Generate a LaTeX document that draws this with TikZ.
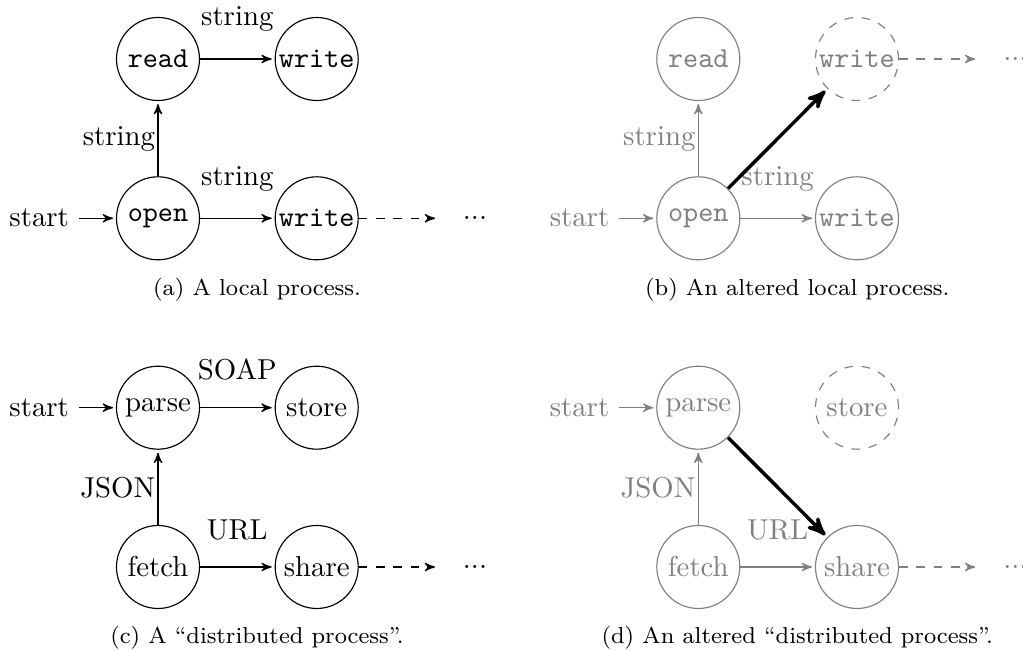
\documentclass[tikz,border=0pt]{standalone}
\usetikzlibrary{arrows}
\definecolor{faded}{gray}{0.5}
\tikzset{
  proc/.style={circle, draw, minimum size=28.82pt, inner sep=0pt},
  gone/.style={proc, dashed},
  lbl/.style={inner sep=0pt},
  newflow/.style={->, very thick, black},
  subcap/.style={font=\footnotesize, anchor=base, text=black},
}
\begin{document}
\begin{tikzpicture}[x=0.3472pt, y=-0.3472pt, >=stealth', shorten >=1pt, line width=0.4pt]
\useasboundingbox (0,0) rectangle (1023,651);

% (a) local process
\begin{scope}
  \node[proc] (a-read) at (158,59) {\texttt{read}};
  \node[proc] (a-wr1) at (316.7,59) {\texttt{write}};
  \node[proc] (a-open) at (158,218.3) {\texttt{open}};
  \node[proc] (a-wr2) at (316.7,218.3) {\texttt{write}};
  \node (a-start) at (39.2,218.3) {start};
  \node (a-dots) at (475,218.3) {...};
  \coordinate (a-end) at (437.9,218.3);
  \draw[->] (a-start) -- (a-open);
  \draw[->] (a-open) -- (a-read);
  \draw[->] (a-read) -- (a-wr1);
  \draw[->] (a-open) -- (a-wr2);
  \draw[->, dashed] (a-wr2) -- (a-end);
  \node[lbl, anchor=south] (a-l1) at (237.3,32.3) {string};
  \node[lbl, anchor=east] (a-l2) at (155.7,138.7) {string};
  \node[lbl, anchor=south] (a-l3) at (237.3,191.6) {string};
  \node[subcap] (a-cap) at (257,295.3) {(a) A local process.};
\end{scope}

% (b) altered local process
\begin{scope}[shift={(540.3,0)}, color=faded]
  \node[proc] (b-read) at (158,59) {\texttt{read}};
  \node[gone] (b-wr1) at (316.7,59) {\texttt{write}};
  \node[proc] (b-open) at (158,218.3) {\texttt{open}};
  \node[proc] (b-wr2) at (316.7,218.3) {\texttt{write}};
  \node (b-start) at (39.2,218.3) {start};
  \node (b-dots) at (475,59) {...};
  \coordinate (b-end) at (437.9,59);
  \draw[->] (b-start) -- (b-open);
  \draw[->] (b-open) -- (b-read);
  \draw[->] (b-open) -- (b-wr2);
  \draw[->, dashed] (b-wr1) -- (b-end);
  \node[lbl, anchor=east] (b-l2) at (155.7,138.7) {string};
  \node[lbl, anchor=south] (b-l3) at (237.3,191.6) {string};
  \draw[newflow] (b-open) -- (b-wr1);
  \node[subcap] (b-cap) at (257,295.3) {(b) An altered local process.};
\end{scope}

% (c) distributed process
\begin{scope}[shift={(0,348.7)}]
  \node[proc] (c-parse) at (158,59) {parse};
  \node[proc] (c-store) at (316.7,59) {store};
  \node[proc] (c-fetch) at (158,218.3) {fetch};
  \node[proc] (c-share) at (316.7,218.3) {share};
  \node (c-start) at (39.2,59) {start};
  \node (c-dots) at (475,218.3) {...};
  \coordinate (c-end) at (437.9,218.3);
  \draw[->] (c-start) -- (c-parse);
  \draw[->] (c-fetch) -- (c-parse);
  \draw[->] (c-parse) -- (c-store);
  \draw[->] (c-fetch) -- (c-share);
  \draw[->, dashed] (c-share) -- (c-end);
  \node[lbl, anchor=south] (c-l1) at (237.3,32.3) {SOAP};
  \node[lbl, anchor=east] (c-l2) at (155.7,138.7) {JSON};
  \node[lbl, anchor=south] (c-l3) at (237.3,191.6) {URL};
  \node[subcap] (c-cap) at (257,295.3) {(c) A “distributed process”.};
\end{scope}

% (d) altered distributed process
\begin{scope}[shift={(540.3,348.7)}, color=faded]
  \node[proc] (d-parse) at (158,59) {parse};
  \node[gone] (d-store) at (316.7,59) {store};
  \node[proc] (d-fetch) at (158,218.3) {fetch};
  \node[proc] (d-share) at (316.7,218.3) {share};
  \node (d-start) at (39.2,59) {start};
  \node (d-dots) at (475,218.3) {...};
  \coordinate (d-end) at (437.9,218.3);
  \draw[->] (d-start) -- (d-parse);
  \draw[->] (d-fetch) -- (d-parse);
  \draw[->] (d-fetch) -- (d-share);
  \draw[->, dashed] (d-share) -- (d-end);
  \node[lbl, anchor=east] (d-l2) at (155.7,138.7) {JSON};
  \node[lbl, anchor=south] (d-l3) at (237.3,191.6) {URL};
  \draw[newflow] (d-parse) -- (d-share);
  \node[subcap] (d-cap) at (257,295.3) {(d) An altered “distributed process”.};
\end{scope}
\end{tikzpicture}
\end{document}
